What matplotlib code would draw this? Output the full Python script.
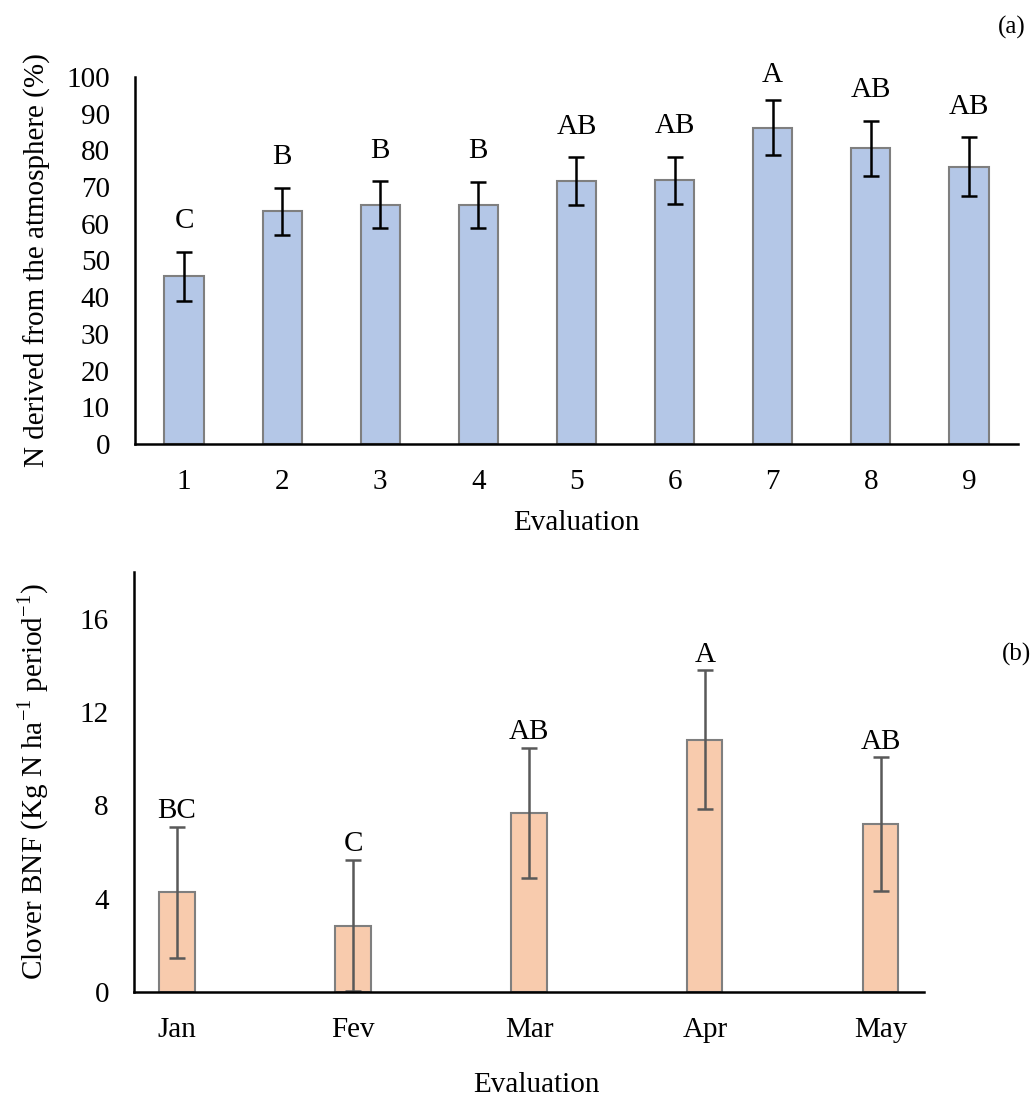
import numpy as np
import matplotlib
matplotlib.use("Agg")
import matplotlib.pyplot as plt

plt.rcParams['font.family'] = ['Liberation Serif', 'DejaVu Serif']
plt.rcParams['mathtext.fontset'] = 'custom'
plt.rcParams['mathtext.rm'] = 'Liberation Serif'

# panel (a)
eval_labels = ['1', '2', '3', '4', '5', '6', '7', '8', '9']
ndfa = [45.7, 63.4, 65.2, 65.1, 71.6, 71.9, 86.2, 80.6, 75.6]
ndfa_err = [6.7, 6.4, 6.4, 6.3, 6.5, 6.4, 7.4, 7.45, 7.95]
ndfa_letters = ['C', 'B', 'B', 'B', 'AB', 'AB', 'A', 'AB', 'AB']

# panel (b)
months = ['Jan', 'Fev', 'Mar', 'Apr', 'May']
bnf = [4.27, 2.85, 7.67, 10.82, 7.18]
bnf_err = [2.81, 2.8, 2.78, 2.96, 2.87]
bnf_letters = ['BC', 'C', 'AB', 'A', 'AB']

fs = 21
fig = plt.figure(figsize=(10.32, 10.97), dpi=100)

# ---------- (a)
ax1 = fig.add_axes([0.1308, 0.5953, 0.8556, 0.3345])
x1 = np.arange(len(ndfa))
ax1.bar(x1, ndfa, width=0.4, color='#B4C7E7', edgecolor='#7F7F7F', linewidth=1.5,
        yerr=ndfa_err, error_kw=dict(ecolor='black', elinewidth=1.8, capsize=6, capthick=1.8))
for xi, v, e, lab in zip(x1, ndfa, ndfa_err, ndfa_letters):
    off = 3.5 if lab == 'A' else 4.8
    ax1.text(xi, v + e + off, lab, ha='center', va='bottom', fontsize=fs)
ax1.set_xlim(-0.5, len(ndfa) - 0.5)
ax1.set_ylim(0, 100)
ax1.set_yticks(range(0, 101, 10))
ax1.set_xticks(x1)
ax1.set_xticklabels(eval_labels)
ax1.tick_params(length=0, labelsize=fs, pad=18)
for s in ['top', 'right']:
    ax1.spines[s].set_visible(False)
for s in ['left', 'bottom']:
    ax1.spines[s].set_linewidth(1.8)
ax1.set_ylabel('N derived from the atmosphere (%)', fontsize=fs)
ax1.yaxis.set_label_coords(-0.095, 0.5)
ax1.set_xlabel('Evaluation', fontsize=fs)
ax1.xaxis.set_label_coords(0.5, -0.18)

# ---------- (b)
ax2 = fig.add_axes([0.1298, 0.0957, 0.7655, 0.3829])
x2 = np.arange(len(bnf))
ax2.bar(x2, bnf, width=0.2, color='#F8CBAD', edgecolor='#7F7F7F', linewidth=1.5,
        yerr=bnf_err, error_kw=dict(ecolor='#595959', elinewidth=1.8, capsize=6, capthick=1.8))
for xi, v, e, lab in zip(x2, bnf, bnf_err, bnf_letters):
    ax2.text(xi, v + e + 0.12, lab, ha='center', va='bottom', fontsize=fs)
ax2.set_xlim(-0.245, len(bnf) - 0.755)
ax2.set_ylim(0, 18)
ax2.set_yticks([0, 4, 8, 12, 16])
ax2.set_xticks(x2)
ax2.set_xticklabels(months)
ax2.tick_params(length=0, labelsize=fs, pad=18)
for s in ['top', 'right']:
    ax2.spines[s].set_visible(False)
for s in ['left', 'bottom']:
    ax2.spines[s].set_linewidth(1.8)
ax2.set_ylabel(r'Clover BNF (Kg N ha$^{\mathregular{-1}}$ period$^{\mathregular{-1}}$)', fontsize=fs)
ax2.yaxis.set_label_coords(-0.105, 0.5)
ax2.set_xlabel('Evaluation', fontsize=fs)
ax2.xaxis.set_label_coords(0.51, -0.19)

fig.text(0.994, 0.975, '(a)', ha='right', va='center', fontsize=18)
fig.text(0.999, 0.403, '(b)', ha='right', va='center', fontsize=18)

fig.savefig('out.png', dpi=100)
